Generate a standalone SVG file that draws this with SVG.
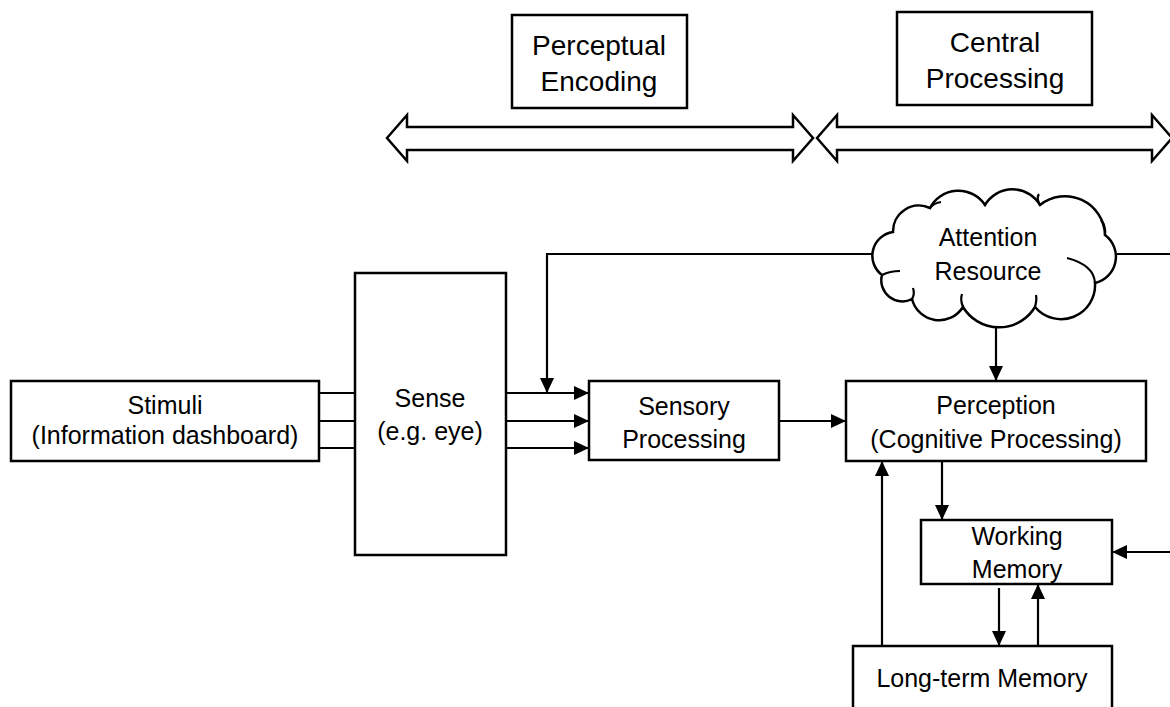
<svg xmlns="http://www.w3.org/2000/svg" width="1170" height="707" viewBox="0 0 1170 707">
<style>
.box{fill:#fff;stroke:#000;stroke-width:2.5}
.t{font-family:"Liberation Sans",Arial,sans-serif;font-size:25px;fill:#000;text-anchor:middle}
.tb{font-size:28px}
.ln{fill:none;stroke:#000;stroke-width:2.2}
</style>
<defs>
<marker id="ah" markerUnits="userSpaceOnUse" markerWidth="16" markerHeight="16" refX="15" refY="7" orient="auto">
<path d="M0,0 L15,7 L0,14 Z" fill="#000"/>
</marker>
</defs>
<rect width="1170" height="707" fill="#fff"/>

<g id="phase-arrows">
<path class="box" d="M387,138 L407,115 L407,127 L793,127 L793,115 L813,138 L793,161 L793,150 L407,150 L407,161 Z"/>
<path class="box" d="M817,138 L837,115 L837,127 L1152,127 L1152,115 L1172,138 L1152,161 L1152,150 L837,150 L837,161 Z"/>
</g>

<g id="perceptual-encoding">
<rect class="box" x="512" y="15" width="175" height="93"/>
<text class="t tb" x="599" y="55">Perceptual</text>
<text class="t tb" x="599" y="91">Encoding</text>
</g>

<g id="central-processing">
<rect class="box" x="897" y="12" width="195" height="93"/>
<text class="t tb" x="995" y="52">Central</text>
<text class="t tb" x="995" y="88">Processing</text>
</g>

<g id="connectors">
<line class="ln" x1="319" y1="393" x2="355" y2="393"/>
<line class="ln" x1="319" y1="421" x2="355" y2="421"/>
<line class="ln" x1="319" y1="448" x2="355" y2="448"/>
<line class="ln" x1="506" y1="393" x2="589" y2="393" marker-end="url(#ah)"/>
<line class="ln" x1="506" y1="421" x2="589" y2="421" marker-end="url(#ah)"/>
<line class="ln" x1="506" y1="448" x2="589" y2="448" marker-end="url(#ah)"/>
<polyline class="ln" points="873,254 547,254 547,393" marker-end="url(#ah)"/>
<line class="ln" x1="1117" y1="254" x2="1170" y2="254"/>
<line class="ln" x1="779" y1="421" x2="846" y2="421" marker-end="url(#ah)"/>
<line class="ln" x1="996" y1="326" x2="996" y2="381" marker-end="url(#ah)"/>
<line class="ln" x1="942" y1="461" x2="942" y2="520" marker-end="url(#ah)"/>
<line class="ln" x1="1170" y1="552" x2="1112" y2="552" marker-end="url(#ah)"/>
<line class="ln" x1="882" y1="646" x2="882" y2="461" marker-end="url(#ah)"/>
<line class="ln" x1="999" y1="588" x2="999" y2="646" marker-end="url(#ah)"/>
<line class="ln" x1="1038" y1="646" x2="1038" y2="584" marker-end="url(#ah)"/>
</g>

<g id="stimuli">
<rect class="box" x="11" y="381" width="308" height="80"/>
<text class="t" x="165" y="414">Stimuli</text>
<text class="t" x="165" y="444">(Information dashboard)</text>
</g>

<g id="sense">
<rect class="box" x="355" y="273" width="151" height="282"/>
<text class="t" x="430" y="407">Sense</text>
<text class="t" x="430" y="440">(e.g. eye)</text>
</g>

<g id="sensory-processing">
<rect class="box" x="589" y="381" width="190" height="79"/>
<text class="t" x="684" y="415">Sensory</text>
<text class="t" x="684" y="448">Processing</text>
</g>

<g id="attention-resource">
<path class="box" d="M882,275 A24,24 0 0 1 893,232 A26,26 0 0 1 930,208 A32,32 0 0 1 985,205 A32,32 0 0 1 1040,205 A40,40 0 0 1 1105,235 A27,27 0 0 1 1095,283 A34,34 0 0 1 1035,307 A42,42 0 0 1 963,307 A28,28 0 0 1 912,299 A21,21 0 0 1 882,275 Z"/>
<path class="ln" d="M882,275 Q890,271 900,271"/>
<path class="ln" d="M912,299 Q915,294 913,288"/>
<path class="ln" d="M963,307 Q960,300 962,294"/>
<path class="ln" d="M1035,307 Q1037,300 1036,295"/>
<path class="ln" d="M1095,283 Q1094,265 1067,258"/>
<path class="ln" d="M1105,235 Q1106,226 1101,220"/>
<path class="ln" d="M1040,205 Q1036,198 1039,194"/>
<path class="ln" d="M930,208 Q934,203 941,202"/>
<text class="t" x="988" y="246">Attention</text>
<text class="t" x="988" y="280">Resource</text>
</g>

<g id="perception">
<rect class="box" x="846" y="381" width="300" height="80"/>
<text class="t" x="996" y="414">Perception</text>
<text class="t" x="996" y="448">(Cognitive Processing)</text>
</g>

<g id="working-memory">
<rect class="box" x="921" y="520" width="191" height="64"/>
<text class="t" x="1017" y="545">Working</text>
<text class="t" x="1017" y="578">Memory</text>
</g>

<g id="long-term-memory">
<rect class="box" x="853" y="646" width="259" height="80"/>
<text class="t" x="982" y="687">Long-term Memory</text>
</g>
</svg>
